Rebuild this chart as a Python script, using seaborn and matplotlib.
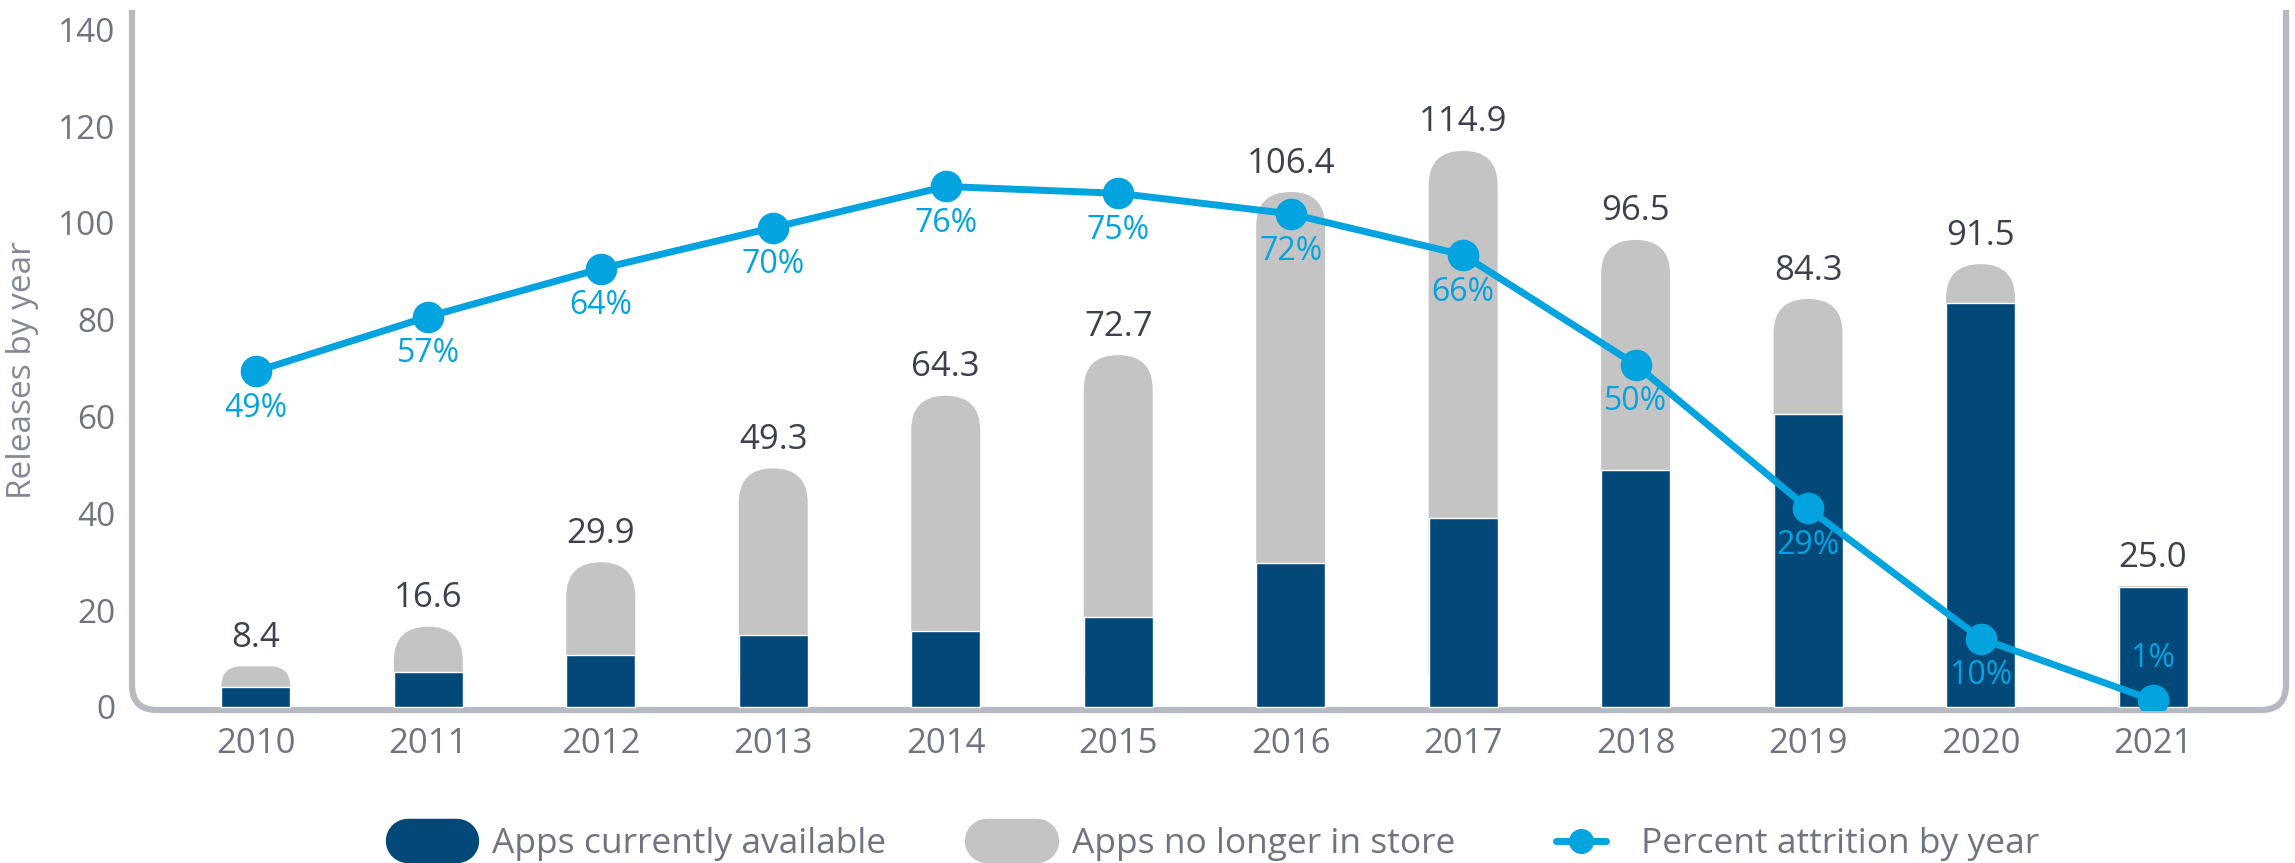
import numpy as np
import pandas as pd
import matplotlib.pyplot as plt
import seaborn as sns
from matplotlib.lines import Line2D
from matplotlib.patches import FancyBboxPatch, PathPatch
from matplotlib.path import Path

# values
years = ["2010", "2011", "2012", "2013", "2014", "2015",
         "2016", "2017", "2018", "2019", "2020", "2021"]
total_releases = [8.4, 16.6, 29.9, 49.3, 64.3, 72.7, 106.4, 114.9, 96.5, 84.3, 91.5, 25.0]
still_available = [4.2, 7.2, 10.8, 14.8, 15.8, 18.5, 29.7, 39.1, 49.0, 60.5, 83.5, 24.8]
attrition_pct = [49, 57, 64, 70, 76, 75, 72, 66, 50, 29, 10, 1]
y_ticks = [0, 20, 40, 60, 80, 100, 120, 140]

DARK = "#02497a"
GREY = "#c4c4c4"
CYAN = "#03a3df"
FRAME = "#b6bac0"
TICK_TXT = "#6f7480"
VAL_TXT = "#3c414d"

sns.set_theme(style="white")
plt.rcParams["font.family"] = ["Open Sans", "DejaVu Sans"]

df = pd.DataFrame({"year": years, "total": total_releases,
                   "available": still_available, "attrition": attrition_pct})

fig = plt.figure(figsize=(22.95, 8.63), dpi=100)
ax = fig.add_axes([132 / 2295, 153 / 863, 2154 / 2295, 700 / 863])

sns.barplot(data=df, x="year", y="total", color=GREY, width=0.4,
            saturation=1, ax=ax, zorder=1)
n_grey = len(ax.patches)
sns.barplot(data=df, x="year", y="available", color=DARK, width=0.4,
            saturation=1, ax=ax, zorder=3)

xlim = (-0.718, 11.771)
ylim = (-0.62, 144.0)
ax.set_xlim(*xlim)
ax.set_ylim(*ylim)

# pixels per data unit, used to make round caps look circular
x_ppu = 2154 / (xlim[1] - xlim[0])
y_ppu = 700 / (ylim[1] - ylim[0])
aspect = x_ppu / y_ppu

grey_bars = list(ax.patches[:n_grey])
for rect, tot, avail in zip(grey_bars, total_releases, still_available):
    x, w, h = rect.get_x(), rect.get_width(), rect.get_height()
    r_px = min(w * x_ppu / 2, (tot - avail) * y_ppu)
    rect.remove()
    ax.add_patch(FancyBboxPatch((x, 0), w, h,
                                boxstyle=f"round,pad=0,rounding_size={r_px / x_ppu}",
                                mutation_aspect=aspect, facecolor=GREY,
                                edgecolor="none", zorder=1))
    ax.annotate(f"{tot:.1f}", (x + w / 2, h), xytext=(0, 14),
                textcoords="offset points", ha="center", va="baseline",
                fontsize=25, color=VAL_TXT)

# attrition line on a hidden percent axis (100% sits a bit above 140 on the left)
PCT_SCALE = 1.415
ax2 = ax.twinx()
sns.pointplot(data=df, x="year", y="attrition", color=CYAN, ax=ax2,
              markersize=19, linewidth=5, zorder=5)
ax2.set_ylim(ylim[0] / PCT_SCALE, ylim[1] / PCT_SCALE)
ax2.set_xlim(*xlim)
ax2.axis("off")
for i, p in enumerate(attrition_pct):
    above = i == len(attrition_pct) - 1
    ax2.annotate(f"{p}%", (i, p), xytext=(0, 24 if above else -33),
                 textcoords="offset points", ha="center", va="baseline",
                 fontsize=23, color=CYAN, zorder=6)

# axes frame with rounded bottom corners, open at the top
rx, ry = 25 / 2154, 25 / 700
verts = [(0, 1), (0, ry), (0, 0), (rx, 0), (1 - rx, 0), (1, 0), (1, ry), (1, 1)]
codes = [Path.MOVETO, Path.LINETO, Path.CURVE3, Path.CURVE3,
         Path.LINETO, Path.CURVE3, Path.CURVE3, Path.LINETO]
ax.add_patch(PathPatch(Path(verts, codes), fill=False, edgecolor=FRAME,
                       lw=4.5, transform=ax.transAxes, clip_on=False, zorder=0))
for s in ax.spines.values():
    s.set_visible(False)

ax.set_yticks(y_ticks)
ax.tick_params(axis="y", length=0, pad=12, labelsize=24, labelcolor=TICK_TXT)
ax.tick_params(axis="x", length=0, pad=12, labelsize=25, labelcolor=TICK_TXT)
ax.set_xlabel("")
ax.set_ylabel("Releases by year", fontsize=24, color="#838994")
ax.yaxis.set_label_coords(-0.043, 0.485)

handles = [
    Line2D([], [], color=DARK, lw=32, solid_capstyle="round"),
    Line2D([], [], color=GREY, lw=32, solid_capstyle="round"),
    Line2D([], [], color=CYAN, lw=5, marker="o", markersize=17),
]
labels = ["Apps currently available", "Apps no longer in store",
          "Percent attrition by year"]
fig.legend(handles, labels, loc="center", bbox_to_anchor=(0.533, 0.022),
           ncol=3, frameon=False, fontsize=25.5, handlelength=1.4,
           handletextpad=0.99, columnspacing=2.85, labelcolor=TICK_TXT)

fig.savefig("out.png", dpi=100)
